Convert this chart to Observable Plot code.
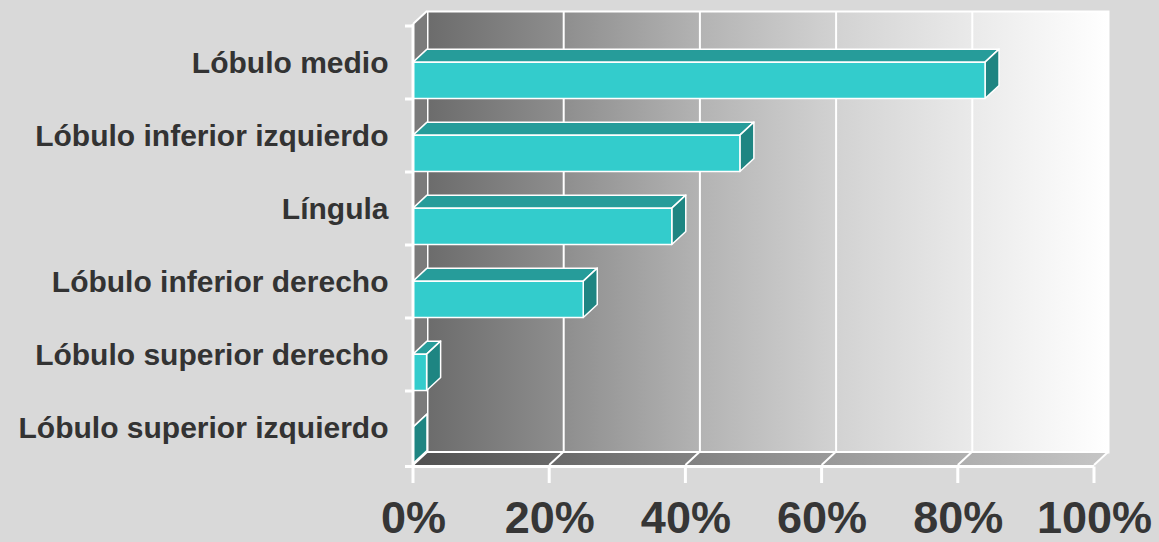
<!DOCTYPE html>
<html><head><meta charset="utf-8">
<script src="https://cdn.jsdelivr.net/npm/d3@7"></script>
<script src="https://cdn.jsdelivr.net/npm/@observablehq/plot@0.6"></script>
<style>
html,body{margin:0;padding:0;background:#d9d9d9;overflow:hidden;}
</style></head><body><div id="chart"></div>
<script>
const categories = ["Lóbulo medio", "Lóbulo inferior izquierdo", "Língula", "Lóbulo inferior derecho", "Lóbulo superior derecho", "Lóbulo superior izquierdo"];
const values = [0.84, 0.48, 0.38, 0.25, 0.02, 0];
const xTicks = [0, 0.2, 0.4, 0.6, 0.8, 1];
const xTickLabels = ["0%", "20%", "40%", "60%", "80%", "100%"];

const data = categories.map((c, i) => ({category: c, value: values[i]}));

const DX = 14, DY = -13;       // 3-D depth offset (pixels)
const FRONT_INSET = 0.495;     // share of band above the bar's front face
const NS = "http://www.w3.org/2000/svg";

function el(tag, attrs) {
  const e = document.createElementNS(NS, tag);
  for (const k in attrs) e.setAttribute(k, attrs[k]);
  return e;
}
const pts = (arr) => arr.map(p => p.join(",")).join(" ");

// gradient definitions
function defsMark() {
  const g = el("g", {});
  const defs = el("defs", {});
  const wall = el("linearGradient", {id: "wallGrad", x1: 0, x2: 1, y1: 0, y2: 0});
  [[0, "#6c6c6c"], [0.2, "#8e8e8e"], [0.4, "#b3b3b3"], [0.6, "#d2d2d2"], [0.8, "#eaeaea"], [1, "#ffffff"]]
    .forEach(([o, c]) => wall.appendChild(el("stop", {offset: o, "stop-color": c})));
  const floor = el("linearGradient", {id: "floorGrad", x1: 0, x2: 1, y1: 0, y2: 0});
  [[0, "#505050"], [0.5, "#8e8e8e"], [1, "#c6c6c6"]]
    .forEach(([o, c]) => floor.appendChild(el("stop", {offset: o, "stop-color": c})));
  defs.appendChild(wall); defs.appendChild(floor);
  g.appendChild(defs);
  return g;
}

// left wall and floor
function wallsMark(index, {x, y}) {
  const g = el("g", {});
  const [yTop, yBot] = y.range();
  const x0 = x(0), x1 = x(1);
  g.appendChild(el("polygon", {points: pts([[x0, yTop], [x0 + DX, yTop + DY], [x0 + DX, yBot + DY], [x0, yBot]]), fill: "#7b7b7b"}));
  g.appendChild(el("polygon", {points: pts([[x0, yBot], [x1, yBot], [x1 + DX, yBot + DY], [x0 + DX, yBot + DY]]), fill: "url(#floorGrad)"}));
  for (const t of xTicks) {
    g.appendChild(el("line", {x1: x(t), y1: yBot, x2: x(t) + DX, y2: yBot + DY, stroke: "white", "stroke-width": 2}));
  }
  g.appendChild(el("line", {x1: x0, y1: yTop, x2: x0 + DX, y2: yTop + DY, stroke: "white", "stroke-width": 2}));
  g.appendChild(el("line", {x1: x0 + DX, y1: yBot + DY, x2: x1 + DX, y2: yBot + DY, stroke: "white", "stroke-width": 2}));
  return g;
}

// 3-D bars
function barsMark(index, {x, y}) {
  const g = el("g", {"stroke": "white", "stroke-width": 1.5, "stroke-linejoin": "round"});
  const bw = y.bandwidth();
  for (const d of data) {
    const ft = y(d.category) + bw * FRONT_INSET;
    const fb = y(d.category) + bw - 0.5;
    const x0 = x(0), xv = x(d.value);
    g.appendChild(el("polygon", {points: pts([[x0, ft], [xv, ft], [xv + DX, ft + DY], [x0 + DX, ft + DY]]), fill: "#269c9a"}));
    g.appendChild(el("polygon", {points: pts([[xv, ft], [xv + DX, ft + DY], [xv + DX, fb + DY], [xv, fb]]), fill: "#1e8582"}));
    if (d.value > 0) g.appendChild(el("rect", {x: x0, y: ft, width: xv - x0, height: fb - ft, fill: "#33cccc"}));
  }
  return g;
}

// front axis lines and ticks
function axesMark(index, {x, y}) {
  const g = el("g", {stroke: "white", "stroke-width": 3});
  const [yTop, yBot] = y.range();
  const x0 = x(0), x1 = x(1);
  g.appendChild(el("line", {x1: x0, y1: yTop, x2: x0, y2: yBot + 2}));
  for (const c of categories) g.appendChild(el("line", {x1: x0 - 8, y1: y(c), x2: x0, y2: y(c)}));
  g.appendChild(el("line", {x1: x0 - 8, y1: yBot + 1.5, x2: x1, y2: yBot + 1.5}));
  for (const t of xTicks) g.appendChild(el("line", {x1: x(t), y1: yBot + 1.5, x2: x(t), y2: yBot + 18}));
  return g;
}

const chart = Plot.plot({
  width: 1159,
  height: 542,
  marginLeft: 413,
  marginRight: 65,
  marginTop: 24,
  marginBottom: 77,
  style: {background: "#d9d9d9", fontFamily: "'Liberation Sans', Arial, sans-serif"},
  x: {domain: [0, 1]},
  y: {type: "band", domain: categories, padding: 0},
  marks: [
    defsMark,
    Plot.frame({fill: "url(#wallGrad)", stroke: "white", strokeWidth: 2, dx: DX, dy: DY}),
    Plot.ruleX([0.2, 0.4, 0.6, 0.8], {stroke: "white", strokeWidth: 2, dx: DX, dy: DY}),
    wallsMark,
    barsMark,
    axesMark,
    Plot.axisY({tickSize: 0, tickPadding: 25, fontSize: 30, fontWeight: "bold", fill: "#333333"}),
    Plot.axisX(xTicks, {tickSize: 0, tickPadding: 36, fontSize: 45, fontWeight: "bold", fill: "#363636",
      tickFormat: d => xTickLabels[xTicks.indexOf(d)]})
  ]
});
document.getElementById("chart").appendChild(chart);
</script>
</body></html>
